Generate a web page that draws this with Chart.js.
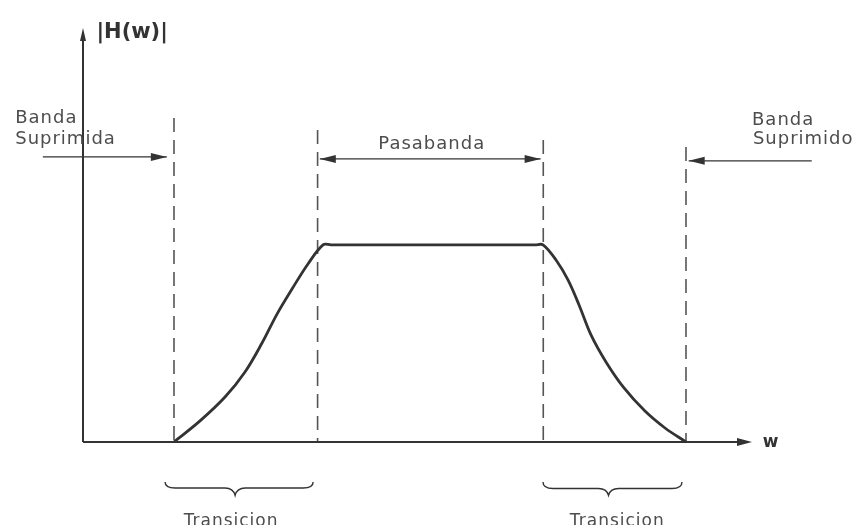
<!DOCTYPE html>
<html>
<head>
<meta charset="utf-8">
<script src="https://cdn.jsdelivr.net/npm/chart.js@4.4.1/dist/chart.umd.min.js"></script>
<style>
  html, body { margin: 0; padding: 0; background: #fff; }
  #wrap { width: 859px; height: 525px; }
</style>
</head>
<body>
<div id="wrap"><canvas id="filtro" width="859" height="525"></canvas></div>
<script>
// --- data: bandpass response |H(w)| ---
const curveW = [1.02, 1.312, 1.592, 1.816, 2.007, 2.175, 2.343, 2.522, 2.691, 2.78,
                5.07, 5.157, 5.303, 5.437, 5.561, 5.695, 5.863, 6.065, 6.300, 6.525, 6.76];
const curveH = [0, 0.107, 0.228, 0.355, 0.502, 0.649, 0.776, 0.903, 1.0, 1.0,
                1.0, 1.0, 0.923, 0.822, 0.695, 0.543, 0.406, 0.274, 0.157, 0.071, 0];

// band edges (dashed guides) and how high each dashed line reaches
const edgeW   = [1.02, 2.63, 5.16, 6.76];
const edgeTop = [1.644, 1.583, 1.532, 1.497];

const W_MAX = 7.5;
const H_MAX = 2.1;

const INK  = "#333";
const TEXT = "#4d4d4d";
const FONT = "18px 'DejaVu Sans', sans-serif";

const qs = s => document.querySelector(s);

/* ----------------------------------------------------------
   helpers
---------------------------------------------------------- */
function arrowHead(ctx, x, y, dx, dy, len, half) {
  // tip at (x,y), pointing along (dx,dy)
  const px = -dy, py = dx;
  ctx.beginPath();
  ctx.moveTo(x, y);
  ctx.lineTo(x - dx * len + px * half, y - dy * len + py * half);
  ctx.lineTo(x - dx * len - px * half, y - dy * len - py * half);
  ctx.closePath();
  ctx.fill();
}

function hArrow(ctx, x0, x1, y, headStart, headEnd) {
  ctx.beginPath();
  ctx.moveTo(x0, y);
  ctx.lineTo(x1, y);
  ctx.stroke();
  const d = x1 > x0 ? 1 : -1;
  if (headEnd)   arrowHead(ctx, x1, y, d, 0, 16, 4);
  if (headStart) arrowHead(ctx, x0, y, -d, 0, 16, 4);
}

function brace(ctx, x0, x1, yEnd, yMain, yTip) {
  const mid = (x0 + x1) / 2 - 4;
  ctx.beginPath();
  ctx.moveTo(x0, yEnd);
  ctx.quadraticCurveTo(x0, yMain, x0 + 10, yMain);
  ctx.lineTo(mid - 10, yMain);
  ctx.quadraticCurveTo(mid - 2, yMain, mid, yTip);
  ctx.quadraticCurveTo(mid + 2, yMain, mid + 10, yMain);
  ctx.lineTo(x1 - 10, yMain);
  ctx.quadraticCurveTo(x1, yMain, x1, yEnd);
  ctx.stroke();
}

/* ----------------------------------------------------------
   axes, arrows, braces and labels
---------------------------------------------------------- */
const sketchPlugin = {
  id: "sketch",
  afterDatasetsDraw(chart) {
    const ctx = chart.ctx;
    const X = v => chart.scales.x.getPixelForValue(v);
    const Y = v => chart.scales.y.getPixelForValue(v);

    ctx.save();
    ctx.strokeStyle = INK;
    ctx.fillStyle = INK;
    ctx.lineWidth = 2;

    // axes
    ctx.beginPath();
    ctx.moveTo(X(0), Y(0));
    ctx.lineTo(X(W_MAX) - 4, Y(0));
    ctx.moveTo(X(0), Y(0));
    ctx.lineTo(X(0), Y(H_MAX) + 4);
    ctx.stroke();
    arrowHead(ctx, X(W_MAX), Y(0), 1, 0, 15, 4);
    arrowHead(ctx, X(0), Y(H_MAX), 0, -1, 13, 3);

    // band arrows
    ctx.lineWidth = 1.3;
    hArrow(ctx, X(-0.45), X(0.94), Y(1.446), false, true);
    hArrow(ctx, X(2.655), X(5.13), Y(1.436), true, true);
    hArrow(ctx, X(8.17), X(6.79), Y(1.426), false, true);

    // braces under the transition bands
    ctx.lineWidth = 1.4;
    brace(ctx, X(0.92), X(2.58), Y(-0.203), Y(-0.233), Y(-0.27));
    brace(ctx, X(5.157), X(6.715), Y(-0.203), Y(-0.236), Y(-0.27));

    // text
    ctx.fillStyle = TEXT;
    ctx.font = FONT;
    ctx.letterSpacing = "1px";
    ctx.textBaseline = "middle";
    ctx.textAlign = "left";
    ctx.fillText("Banda", X(-0.76), Y(1.64));
    ctx.fillText("Suprimida", X(-0.76), Y(1.535));
    ctx.fillText("Banda", X(7.5), Y(1.63));
    ctx.fillText("Suprimido", X(7.51), Y(1.535));

    ctx.textAlign = "center";
    ctx.fillText("Pasabanda", X(3.91), Y(1.51));
    ctx.font = "17px 'DejaVu Sans', sans-serif";
    ctx.fillText("Transicion", X(1.66), Y(-0.405));
    ctx.fillText("Transicion", X(5.99), Y(-0.405));

    // axis labels
    ctx.letterSpacing = "0px";
    ctx.fillStyle = INK;
    ctx.font = "bold 21px 'DejaVu Sans', sans-serif";
    ctx.textAlign = "left";
    ctx.fillText("|H(w)|", X(0.15), Y(2.075));
    ctx.font = "bold 17px 'DejaVu Sans', sans-serif";
    ctx.fillText("w", X(7.62), Y(-0.005));
    ctx.restore();
  }
};

/* ----------------------------------------------------------
   chart
---------------------------------------------------------- */
const responsePts = curveW.map((w, i) => ({ x: w, y: curveH[i] }));

const guideSets = edgeW.map((w, i) => ({
  data: [{ x: w, y: edgeTop[i] }, { x: w, y: 0 }],
  borderColor: "#555",
  borderWidth: 1.6,
  borderDash: [14, 8],
  pointRadius: 0,
  fill: false,
  clip: false
}));

new Chart(qs("#filtro"), {
  type: "line",
  data: {
    datasets: [
      {
        data: responsePts,
        borderColor: INK,
        borderWidth: 2.8,
        pointRadius: 0,
        fill: false,
        tension: 0.35,
        clip: false
      },
      ...guideSets
    ]
  },
  options: {
    responsive: false,
    animation: false,
    devicePixelRatio: 1,
    layout: { padding: { left: 83, right: 107, top: 28, bottom: 83 } },
    plugins: { legend: { display: false }, tooltip: { enabled: false } },
    scales: {
      x: { type: "linear", min: 0, max: W_MAX, display: false },
      y: { type: "linear", min: 0, max: H_MAX, display: false }
    }
  },
  plugins: [sketchPlugin]
});
</script>
</body>
</html>
